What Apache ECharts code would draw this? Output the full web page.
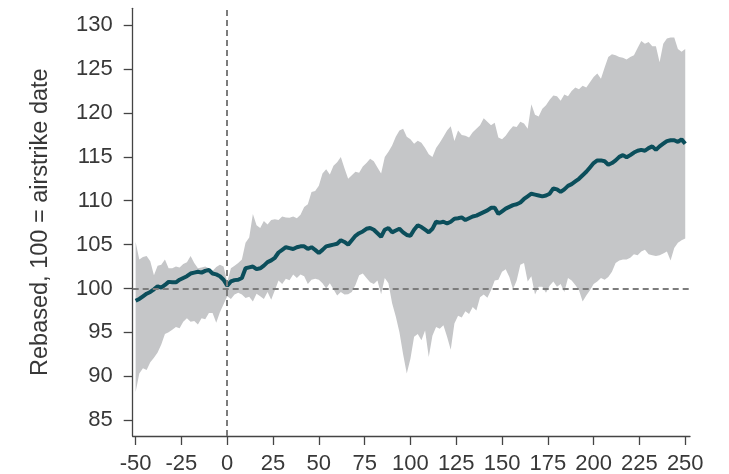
<!DOCTYPE html>
<html>
<head>
<meta charset="utf-8">
<script src="https://cdn.jsdelivr.net/npm/echarts@6/dist/echarts.min.js"></script>
<style>
    html, body { margin: 0; padding: 0; background: #fff; }
    #main { width: 729px; height: 474px; }
</style>
</head>
<body>
<div id="main"></div>
<script>
// days relative to the airstrike date
var days = [
    -50, -48, -46, -44, -42, -40, -38, -36, -34, -32,
    -30, -28, -26, -24, -22, -20, -18, -16, -14, -12,
    -10, -8, -6, -4, -2, 0, 2, 4, 6, 8,
    10, 12, 14, 16, 18, 20, 22, 24, 26, 28,
    30, 32, 34, 36, 38, 40, 42, 44, 46, 48,
    50, 52, 54, 56, 58, 60, 62, 64, 66, 68,
    70, 72, 74, 76, 78, 80, 82, 84, 86, 88,
    90, 92, 94, 96, 98, 100, 102, 104, 106, 108,
    110, 112, 114, 116, 118, 120, 122, 124, 126, 128,
    130, 132, 134, 136, 138, 140, 142, 144, 146, 148,
    150, 152, 154, 156, 158, 160, 162, 164, 166, 168,
    170, 172, 174, 176, 178, 180, 182, 184, 186, 188,
    190, 192, 194, 196, 198, 200, 202, 204, 206, 208,
    210, 212, 214, 216, 218, 220, 222, 224, 226, 228,
    230, 232, 234, 236, 238, 240, 242, 244, 246, 248,
    250
];

var meanLine = [
    98.6, 98.8, 99.1, 99.4, 99.6, 99.9, 100.25, 100.1, 100.4, 100.75,
    100.7, 100.7, 101.0, 101.2, 101.4, 101.7, 101.8, 101.9, 101.8, 102.0,
    102.1, 101.7, 101.6, 101.4, 101.0, 100.3, 100.8, 100.95, 101.0, 101.2,
    102.3, 102.4, 102.5, 102.2, 102.3, 102.6, 103.0, 103.2, 103.5, 104.1,
    104.4, 104.7, 104.6, 104.5, 104.7, 104.8, 104.8, 104.5, 104.7, 104.4,
    104.05, 104.4, 104.8, 104.9, 105.0, 105.1, 105.5, 105.3, 105.0, 105.5,
    106.0, 106.3, 106.5, 106.8, 106.9, 106.7, 106.3, 105.9, 106.7, 106.9,
    106.4, 106.6, 106.8, 106.4, 106.1, 106.0, 106.7, 107.2, 107.0, 106.7,
    106.4, 106.8, 107.6, 107.5, 107.6, 107.4, 107.6, 107.95, 108.0, 108.1,
    107.8, 108.0, 108.2, 108.3, 108.5, 108.7, 108.9, 109.2, 109.2, 108.5,
    108.8, 109.1, 109.3, 109.5, 109.6, 109.8, 110.2, 110.5, 110.8, 110.7,
    110.6, 110.5, 110.6, 110.8, 111.4, 111.3, 111.0, 111.3, 111.7, 111.9,
    112.2, 112.5, 112.9, 113.3, 113.8, 114.3, 114.6, 114.6, 114.5, 114.1,
    114.3, 114.6, 115.0, 115.2, 114.95, 115.2, 115.5, 115.7, 115.8, 115.7,
    116.0, 116.2, 115.8, 116.2, 116.5, 116.8, 116.9, 116.9, 116.7, 117.0,
    116.5
];

var upperBand = [
    105.3, 103.3, 103.6, 103.7, 103.1, 101.5, 102.6, 102.7, 103.3, 102.3,
    102.3, 102.5, 102.4, 102.8, 103.0, 103.7, 102.9, 102.3, 102.4, 102.5,
    102.3, 102.0, 102.45, 102.7, 102.5, 100.75, 102.3, 102.6, 102.9, 103.3,
    105.2, 105.8, 108.5, 107.2, 106.9, 107.7, 107.3, 107.8, 107.9, 107.8,
    108.2, 108.1, 108.05, 108.2, 108.0, 108.4, 109.3, 109.6, 111.0, 111.1,
    111.7, 113.1, 113.6, 113.0, 114.0, 114.4, 115.0, 113.7, 112.5, 112.9,
    113.3, 113.2, 113.9, 114.3, 114.8, 114.5, 113.8, 113.1, 115.0, 115.6,
    116.3, 117.3, 118.0, 118.2, 117.3, 117.0, 116.5, 116.85, 116.6, 116.0,
    115.3, 115.0, 116.0, 116.6, 117.3, 118.0, 118.5, 116.8, 118.0, 117.5,
    117.4, 117.2, 117.8, 118.2, 118.6, 119.4, 119.0, 118.6, 118.9, 117.2,
    117.0, 117.4, 118.0, 118.5, 118.4, 119.0, 118.8, 118.2, 121.0, 119.8,
    119.6, 120.5, 120.9, 121.5, 122.0, 121.9, 121.4, 122.1, 121.9, 122.5,
    122.9, 122.7, 123.1, 122.9, 123.5, 124.1, 124.5, 123.9, 125.2, 126.4,
    126.7, 126.6, 126.4, 126.3, 126.1, 126.4, 126.6, 127.4, 128.2, 127.9,
    128.1, 127.6, 127.6, 125.8, 127.9, 128.5, 128.6, 128.6, 127.3, 127.0,
    127.3
];

var lowerBand = [
    88.2, 90.3, 90.9, 90.7, 91.6, 92.1, 92.7, 93.6, 94.8, 95.0,
    95.3, 95.6, 95.45, 96.2, 96.6, 96.2, 96.3, 95.9, 96.6, 96.5,
    97.2, 97.2, 96.1, 97.3, 98.2, 99.1, 98.8, 99.3, 99.5, 99.3,
    98.9, 99.05, 98.5, 99.4, 99.1, 98.8, 99.6, 98.7, 99.8, 100.9,
    100.5, 101.1, 100.95, 101.6, 101.2, 101.6, 101.4, 100.5, 101.0, 101.1,
    101.0, 100.6, 100.0, 100.6, 99.9, 99.2, 99.6, 99.3, 99.35, 99.6,
    100.4, 101.5, 101.7, 101.2, 100.7, 100.5, 100.9, 99.35, 101.2, 100.6,
    98.3, 96.8, 95.0, 92.5, 90.3, 92.0, 94.5, 94.8, 94.1, 95.2,
    92.2, 94.6, 95.6, 95.4, 95.8, 94.5, 93.0, 96.0, 96.9, 96.7,
    97.4, 97.1, 97.9, 97.5, 99.0, 99.3, 98.95, 99.8, 100.9, 101.0,
    101.9, 102.2, 101.3, 99.9, 100.9, 102.7, 102.9, 100.8, 101.4, 99.3,
    100.2, 100.2, 99.5, 100.3, 100.8, 100.2, 100.5, 99.6, 101.2, 100.9,
    100.4, 99.8, 98.5, 99.2, 99.8, 100.5, 100.8, 101.2, 101.0, 101.3,
    101.9, 102.9, 103.2, 103.3, 103.3, 103.5, 103.9, 103.8, 104.2, 104.4,
    103.9, 103.8, 103.7, 103.8, 104.0, 104.2, 103.2, 104.6, 105.2, 105.5,
    105.7
];

var xTicks = [-50, -25, 0, 25, 50, 75, 100, 125, 150, 175, 200, 225, 250];
var yTicks = [85, 90, 95, 100, 105, 110, 115, 120, 125, 130];

function pairs(vals) {
    return days.map(function (d, i) { return [d, vals[i]]; });
}

var font = '"Liberation Sans", Arial, sans-serif';
var axisColor = '#444';
var textColor = '#383838';

var myChart = echarts.init(document.getElementById('main'));
myChart.setOption({
    animation: false,
    backgroundColor: '#fff',
    grid: {
        left: 132.7,
        right: 39,
        top: 8.3,
        bottom: 38,
        containLabel: false,
        outerBoundsMode: 'none'
    },
    xAxis: {
        type: 'value',
        min: -51.6,
        max: 252.6,
        splitLine: { show: false },
        axisLine: { show: true, onZero: false, lineStyle: { color: axisColor, width: 1.3 } },
        axisTick: { show: true, length: 9, customValues: xTicks, lineStyle: { color: axisColor, width: 1.3 } },
        axisLabel: {
            customValues: xTicks,
            margin: 17,
            fontSize: 22,
            fontFamily: font,
            color: textColor
        }
    },
    yAxis: {
        type: 'value',
        min: 83.18,
        max: 131.94,
        name: 'Rebased, 100 = airstrike date',
        nameLocation: 'middle',
        nameGap: 80,
        nameTextStyle: { fontSize: 23.5, fontFamily: font, color: textColor },
        splitLine: { show: false },
        axisLine: { show: true, onZero: false, lineStyle: { color: axisColor, width: 1.3 } },
        axisTick: { show: true, length: 9, customValues: yTicks, lineStyle: { color: axisColor, width: 1.3 } },
        axisLabel: {
            customValues: yTicks,
            margin: 20,
            fontSize: 22,
            fontFamily: font,
            color: textColor
        }
    },
    series: [
        {
            // min-max range drawn as one polygon: upper edge, then lower edge backwards
            name: 'range',
            type: 'custom',
            silent: true,
            data: [[0, 100]],
            renderItem: function (params, api) {
                var pts = [];
                for (var i = 0; i < days.length; i++) {
                    pts.push(api.coord([days[i], upperBand[i]]));
                }
                for (var j = days.length - 1; j >= 0; j--) {
                    pts.push(api.coord([days[j], lowerBand[j]]));
                }
                return {
                    type: 'polygon',
                    shape: { points: pts },
                    style: { fill: '#c5c6c8' }
                };
            },
            z: 1,
            markLine: {
                silent: true,
                symbol: 'none',
                label: { show: false },
                lineStyle: { color: '#7c7c7c', width: 2, type: [6, 4] },
                data: [{ xAxis: 0 }, { yAxis: 100 }]
            }
        },
        {
            name: 'mean',
            type: 'line',
            symbol: 'none',
            lineStyle: { color: '#0b4e5b', width: 4 },
            data: pairs(meanLine),
            z: 3
        }
    ]
});
</script>
</body>
</html>
